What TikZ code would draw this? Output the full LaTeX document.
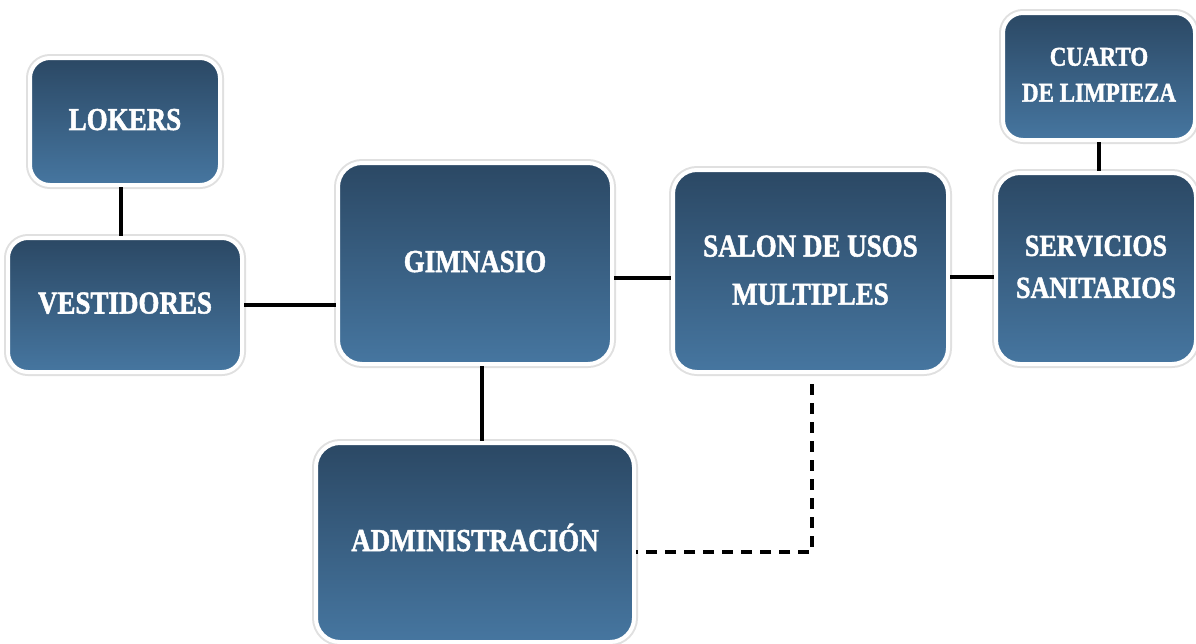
\documentclass[tikz,border=0pt]{standalone}
\usepackage{fontspec}
\setmainfont{Liberation Serif}
\newfontfamily\stencilfont{Liberation Serif Bold}[FakeBold=1.6]
\usepackage{graphicx}
\usetikzlibrary{calc}
\definecolor{boxtop}{RGB}{43,72,100}
\definecolor{boxbot}{RGB}{70,118,160}
\newcommand\lbl[3]{\scalebox{1}[1.18]{\fontsize{#1}{#2}\selectfont\stencilfont\begin{tabular}{@{}c@{}}#3\end{tabular}}}
\tikzset{
  room/.style={rectangle, rounded corners=24pt, top color=boxtop, bottom color=boxbot,
    draw=white, line width=4pt, text=white, inner sep=0pt, align=center,
    preaction={draw=black!12, line width=8pt}},
  link/.style={draw=black, line width=3.5pt},
  dlink/.style={draw=black, line width=3.5pt, dash pattern=on 11pt off 8pt}
}
\begin{document}
\begin{tikzpicture}[x=1pt,y=-1pt]
\useasboundingbox (0,0) rectangle (1196,643);
\node[room, minimum width=190pt, minimum height=127pt, rounded corners=20pt] (lok) at (125,121.5) {\lbl{27}{36}{LOKERS}};
\node[room, minimum width=234pt, minimum height=134pt, rounded corners=20pt] (ves) at (125,305) {\lbl{27}{36}{VESTIDORES}};
\node[room, minimum width=274pt, minimum height=201pt] (gim) at (475,263.5) {\lbl{27}{36}{GIMNASIO}};
\node[room, minimum width=275pt, minimum height=202pt] (sal) at (810.5,271) {\lbl{27}{40.7}{SALON DE USOS\\MULTIPLES}};
\node[room, minimum width=200pt, minimum height=191pt] (ser) at (1096,268.5) {\lbl{26}{35.6}{SERVICIOS\\SANITARIOS}};
\node[room, minimum width=192pt, minimum height=127pt, rounded corners=20pt] (cua) at (1099,76.5) {\lbl{23}{30.5}{CUARTO\\DE LIMPIEZA}};
\node[room, minimum width=318pt, minimum height=199pt] (adm) at (475,542.5) {\lbl{27}{36}{ADMINISTRACIÓN}};
% connectors
\coordinate (lv) at ($(lok.south)+(-4,0)$);
\draw[link] (lv) -- (lv |- ves.north);
\draw[link] (ves.east) -- (ves.east -| gim.west);
\coordinate (gs) at ($(gim.east)+(0,14.5)$);
\draw[link] (gs) -- (gs -| sal.west);
\coordinate (ss) at ($(sal.east)+(0,6)$);
\draw[link] (ss) -- (ss -| ser.west);
\draw[link] (cua.south) -- (cua.south |- ser.north);
\coordinate (ga) at ($(gim.south)+(7,0)$);
\draw[link] (ga) -- (ga |- adm.north);
\coordinate (sd) at ($(sal.south)+(1.5,10)$);
\coordinate (bend) at ($(sal.south)+(1.5,178)$);
\draw[dlink] (sd) -- (bend) -- (bend -| adm.east);
\end{tikzpicture}
\end{document}
